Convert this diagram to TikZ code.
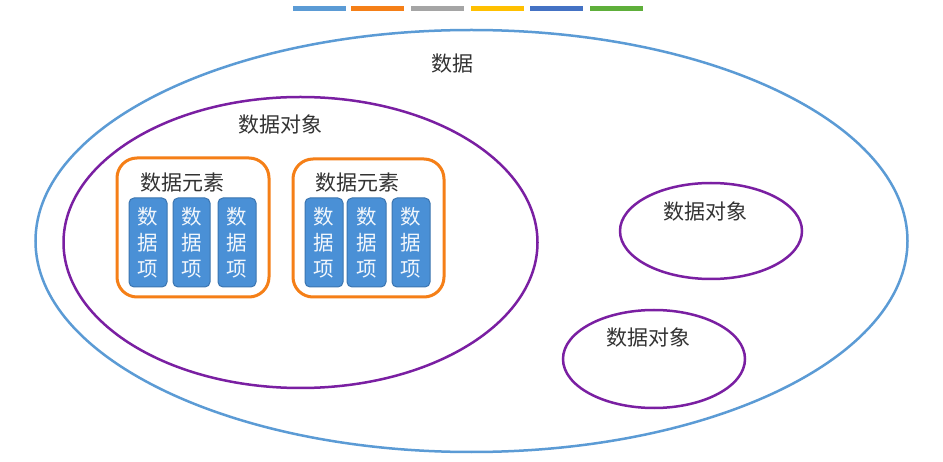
\documentclass[tikz,border=0pt]{standalone}
\usepackage{fontspec}
\setmainfont{Noto Sans CJK SC}
\newfontfamily\cjk{Noto Sans CJK SC}
\definecolor{cblue}{HTML}{5B9BD5}
\definecolor{corange}{HTML}{F57F17}
\definecolor{cgray}{HTML}{A5A5A5}
\definecolor{cyellow}{HTML}{FFC000}
\definecolor{cdblue}{HTML}{4472C4}
\definecolor{cgreen}{HTML}{5EAF3A}
\definecolor{cpurple}{HTML}{7A1FA2}
\definecolor{itemfill}{HTML}{4A90D6}
\definecolor{itemline}{HTML}{3B75B0}
\definecolor{txt}{HTML}{333333}
\tikzset{
  bar/.style={draw=none, fill=#1, minimum width=53pt, minimum height=5pt, inner sep=0pt},
  lbl/.style={font=\cjk\fontsize{21}{23}\selectfont, text=txt, inner sep=0pt},
  objring/.style={draw=cpurple, line width=2.5pt},
  elembox/.style={draw=corange, line width=3pt, rounded corners=20pt},
  itembox/.style={draw=itemline, fill=itemfill, line width=1pt, rounded corners=5pt},
  itemtxt/.style={font=\cjk\fontsize{20.5}{26}\selectfont, text=white!92!cblue, align=center, inner sep=0pt}
}
\begin{document}
\begin{tikzpicture}[x=1pt,y=-1pt]
\useasboundingbox[fill=white] (0,0) rectangle (943,462);

% legend strip
\node[bar=cblue]   (b1) at (319.5,8.5) {};
\node[bar=corange] (b2) at (377.5,8.5) {};
\node[bar=cgray]   (b3) at (437.5,8.5) {};
\node[bar=cyellow] (b4) at (497,8.5) {};
\node[bar=cdblue]  (b5) at (556,8.5) {};
\node[bar=cgreen]  (b6) at (616,8.5) {};

% outer data set
\draw[cblue, line width=2.5pt] (471.5,241) ellipse [x radius=436, y radius=211];
\node[lbl] (data) at (452,64) {数据};

% large data object
\draw[objring] (300.5,242.5) ellipse [x radius=237, y radius=145.5];
\node[lbl] (obj1) at (280,125) {数据对象};

% small data objects
\draw[objring] (711,231) ellipse [x radius=91, y radius=48];
\node[lbl] (obj2) at (705,212) {数据对象};
\draw[objring] (654,359) ellipse [x radius=91, y radius=49];
\node[lbl] (obj3) at (648,338) {数据对象};

% data elements
\draw[elembox] (117,158) rectangle (269,297);
\node[lbl] (el1) at (182,183) {数据元素};
\draw[elembox] (293,159) rectangle (444,297);
\node[lbl] (el2) at (357,183) {数据元素};

% data items
\foreach \xa/\xb [count=\i] in {129/167, 173/210, 218/256, 305/343, 347/386, 392/430} {
  \draw[itembox] (\xa,198) rectangle (\xb,287);
  \node[itemtxt] (item\i) at ({(\xa+\xb)/2},243) {数\\据\\项};
}
\end{tikzpicture}
\end{document}
